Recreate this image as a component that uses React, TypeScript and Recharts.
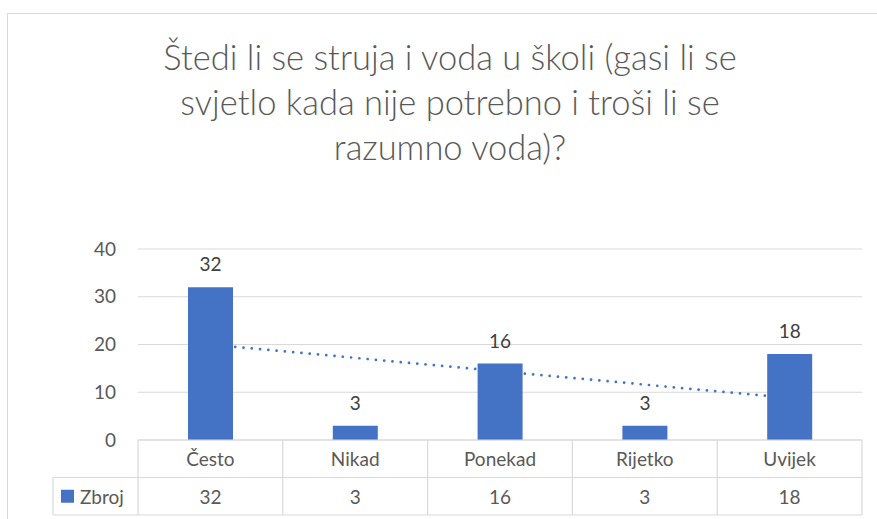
import React from 'react';
import { ComposedChart, Bar, Line, XAxis, YAxis, CartesianGrid, LabelList } from 'recharts';

const categories = ['Često', 'Nikad', 'Ponekad', 'Rijetko', 'Uvijek'];
const zbroj = [32, 3, 16, 3, 18];
const trend = [20, 17.2, 14.4, 11.6, 8.8];
const yTicks = [0, 10, 20, 30, 40];
const seriesName = 'Zbroj';
const titleLines = [
  'Štedi li se struja i voda u školi (gasi li se',
  'svjetlo kada nije potrebno i troši li se',
  'razumno voda)?',
];

const data = categories.map((c, i) => ({ name: c, zbroj: zbroj[i], trend: trend[i] }));

const W = 877;
const H = 519;
const M = { top: 249, right: 15, bottom: 4, left: 78 };
const YW = 60;
const FALLBACK_HALF = (W - M.left - YW - M.right) / categories.length / 2;
const ROW = 37.5;
const GRID = '#d9d9d9';
const TXT = '#595959';
const FONT = 'Lato, "Open Sans", sans-serif';
const BLUE = '#4472C4';

const TableTick = (props: any) => {
  const { x, y, payload } = props;
  const idx = categories.indexOf(payload.value);
  const half = payload && payload.offset > 0 ? payload.offset : FALLBACK_HALF;
  const left = x - half;
  const right = x + half;
  const legendLeft = 53;
  return (
    <g>
      <line x1={right} y1={y} x2={right} y2={y + 2 * ROW} stroke={GRID} strokeWidth={1.2} />
      <line x1={left} y1={y + ROW} x2={right} y2={y + ROW} stroke={GRID} strokeWidth={1.2} />
      <line x1={left} y1={y + 2 * ROW} x2={right} y2={y + 2 * ROW} stroke={GRID} strokeWidth={1.2} />
      {idx === 0 && (
        <g>
          <line x1={left} y1={y} x2={left} y2={y + 2 * ROW} stroke={GRID} strokeWidth={1.2} />
          <line x1={legendLeft} y1={y + ROW} x2={left} y2={y + ROW} stroke={GRID} strokeWidth={1.2} />
          <line x1={legendLeft} y1={y + 2 * ROW} x2={left} y2={y + 2 * ROW} stroke={GRID} strokeWidth={1.2} />
          <line x1={legendLeft} y1={y + ROW} x2={legendLeft} y2={y + 2 * ROW} stroke={GRID} strokeWidth={1.2} />
          <rect x={legendLeft + 8} y={y + ROW * 1.5 - 6.5} width={13} height={13} fill={BLUE} />
          <text x={legendLeft + 27} y={y + ROW * 1.5} dominantBaseline="central" fill={TXT} fontSize={19} fontFamily={FONT}>
            {seriesName}
          </text>
        </g>
      )}
      <text x={x} y={y + ROW / 2} textAnchor="middle" dominantBaseline="central" fill={TXT} fontSize={19} fontFamily={FONT}>
        {payload.value}
      </text>
      <text x={x} y={y + ROW * 1.5} textAnchor="middle" dominantBaseline="central" fill={TXT} fontSize={19} fontFamily={FONT}>
        {idx >= 0 ? zbroj[idx] : ''}
      </text>
    </g>
  );
};

export default function App() {
  return (
    <div style={{ position: 'absolute', left: 0, top: 0, width: W, height: H, overflow: 'hidden', background: '#fff' }}>
      <div
        style={{
          position: 'absolute',
          left: 7,
          top: 13,
          width: 1000,
          height: 1000,
          border: `1px solid ${GRID}`,
          boxSizing: 'border-box',
        }}
      />
      <div
        style={{
          position: 'absolute',
          left: 0,
          top: 34,
          width: 900,
          textAlign: 'center',
          fontFamily: FONT,
          fontSize: 34.5,
          fontWeight: 300,
          lineHeight: '45px',
          color: TXT,
        }}
      >
        {titleLines.map((t, i) => (
          <div key={i}>{t}</div>
        ))}
      </div>
      <div style={{ position: 'absolute', left: 0, top: 0 }}>
        <ComposedChart width={W} height={H} data={data} margin={M}>
          <CartesianGrid vertical={false} stroke={GRID} strokeWidth={1.2} />
          <XAxis
            dataKey="name"
            height={75}
            interval={0}
            tickLine={false}
            tickSize={0}
            tickMargin={0}
            axisLine={{ stroke: GRID, strokeWidth: 1.2 }}
            tick={<TableTick />}
          />
          <YAxis
            width={YW}
            domain={[0, 40]}
            ticks={yTicks}
            axisLine={false}
            tickLine={false}
            tickSize={0}
            tickMargin={22}
            tick={{ fill: TXT, fontSize: 19, fontFamily: FONT }}
          />
          <Line
            dataKey="trend"
            stroke={BLUE}
            strokeWidth={2.7}
            strokeDasharray="0.01 8.3"
            strokeLinecap="round"
            dot={false}
            activeDot={false}
            isAnimationActive={false}
          />
          <Bar dataKey="zbroj" fill={BLUE} barSize={45} isAnimationActive={false}>
            <LabelList dataKey="zbroj" position="top" offset={16} fill="#404040" fontSize={19} fontFamily={FONT} />
          </Bar>
        </ComposedChart>
      </div>
    </div>
  );
}
